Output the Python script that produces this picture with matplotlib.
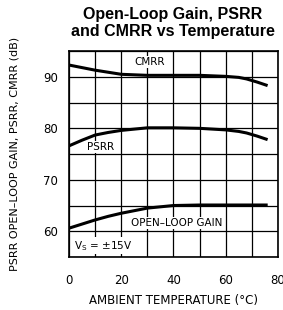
import matplotlib
matplotlib.use("Agg")
import matplotlib.pyplot as plt

temps = [0, 5, 10, 15, 20, 30, 40, 50, 60, 65, 68, 72, 75.5]
cmrr = [92.3, 91.8, 91.3, 90.9, 90.5, 90.3, 90.3, 90.3, 90.1, 89.9, 89.6, 89.0, 88.4]
psrr = [76.6, 77.7, 78.7, 79.2, 79.6, 80.1, 80.1, 80.0, 79.7, 79.4, 79.1, 78.5, 77.9]
olg = [60.6, 61.4, 62.2, 62.9, 63.5, 64.5, 65.0, 65.1, 65.1, 65.1, 65.1, 65.1, 65.1]

xticks = [0, 20, 40, 60, 80]
yticks = [60, 70, 80, 90]

fig = plt.figure(figsize=(2.83, 3.10), dpi=100)
ax = fig.add_axes([0.244, 0.171, 0.738, 0.664])

for x in range(0, 81, 10):
    ax.axvline(x, color="black", lw=0.9, zorder=1)
for y in range(55, 96, 5):
    ax.axhline(y, color="black", lw=0.9, zorder=1)

ax.plot(temps, cmrr, color="black", lw=2.2, zorder=3)
ax.plot(temps, psrr, color="black", lw=2.2, zorder=3)
ax.plot(temps, olg, color="black", lw=2.2, zorder=3)

txt = dict(fontsize=7.5, family="DejaVu Sans", zorder=4,
           bbox=dict(facecolor="white", edgecolor="none", pad=1))
ax.text(30.7, 92.9, "CMRR", ha="center", va="center", **txt)
ax.text(11.9, 76.4, "PSRR", ha="center", va="center", **txt)
ax.text(41.4, 61.6, "OPEN\u2013LOOP GAIN", ha="center", va="center", **txt)
ax.text(1.8, 57.2, "V$_\\mathregular{S}$ = \u00b115V", ha="left", va="center", **txt)

ax.set_xlim(0, 80)
ax.set_ylim(55, 95)
ax.set_xticks(xticks)
ax.set_yticks(yticks)
ax.tick_params(length=0, labelsize=8.5)
ax.tick_params(axis="x", pad=12)
ax.tick_params(axis="y", pad=8)
for s in ax.spines.values():
    s.set_linewidth(1.2)

ax.set_xlabel("AMBIENT TEMPERATURE (\u00b0C)", fontsize=8.5, labelpad=5)
fig.text(0.053, 0.505, "PSRR OPEN\u2013LOOP GAIN, PSRR, CMRR (dB)",
         rotation=90, ha="center", va="center", fontsize=8)

fig.text(0.61, 0.926, "Open-Loop Gain, PSRR\nand CMRR vs Temperature",
         ha="center", va="center", fontsize=11.5, fontweight="bold",
         family="Liberation Sans", linespacing=1.1)

fig.savefig("out.png", dpi=100)
